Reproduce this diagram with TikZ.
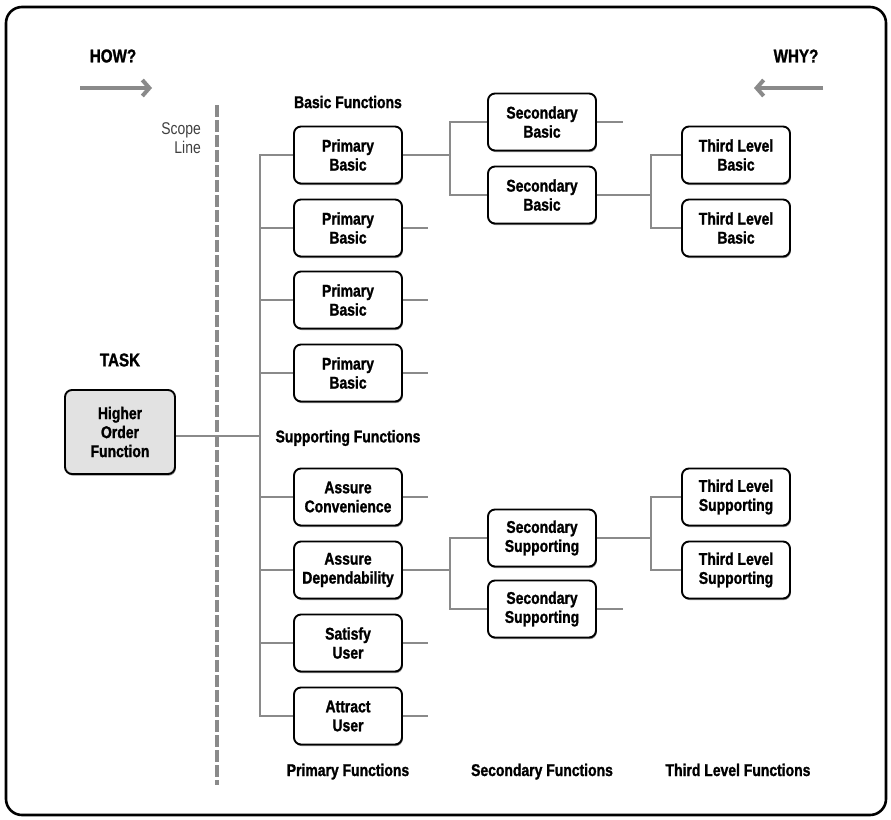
\documentclass[tikz,border=0pt]{standalone}
\usepackage{fontspec}
\setmainfont[FakeStretch=0.82, BoldFeatures={FakeBold=1.3}]{Liberation Sans}
\usetikzlibrary{arrows.meta,calc,shadows}
\definecolor{linegray}{HTML}{8A8A8A}
\definecolor{boxgray}{HTML}{E2E2E2}
\begin{document}
\begin{tikzpicture}[x=1pt,y=-1pt,
  fbox/.style={draw=black, line width=1.9pt, rounded corners=7pt, fill=white,
    minimum width=108pt, minimum height=57pt, align=center, inner sep=2pt,
    font=\bfseries\fontsize{17}{19}\selectfont,
    drop shadow={shadow xshift=0.8pt, shadow yshift=-1.6pt, fill=black!45, opacity=1}},
  conn/.style={draw=linegray, line width=2.8pt},
  heading/.style={font=\bfseries\fontsize{17}{19}\selectfont, inner sep=0pt},
  bigheading/.style={font=\bfseries\fontsize{18.5}{21}\selectfont, inner sep=0pt},
  direction/.style={draw=linegray, line width=4pt, -{Straight Barb[length=7pt,width=16pt,line width=4pt]}}
]
\useasboundingbox (0,0) rectangle (891,819);
% outer frame
\draw[line width=2.6pt, rounded corners=16pt] (6,7) rectangle (886,815);

% direction cues
\node[bigheading] (how) at (113,56) {HOW?};
\node[bigheading] (why) at (796,56) {WHY?};
\coordinate (howA) at (80,88);
\coordinate (howB) at (152,88);
\coordinate (whyA) at (823,88);
\coordinate (whyB) at (754,88);
\draw[direction] (howA) -- (howB);
\draw[direction] (whyA) -- (whyB);

% scope line
\coordinate (scopeTop) at (217,105);
\coordinate (scopeBot) at (217,785);
\draw[draw=linegray, line width=4.5pt, dash pattern=on 12pt off 3pt] (scopeTop) -- (scopeBot);
\node[font=\fontsize{17}{19}\selectfont, text=black!75, align=right, anchor=east, inner sep=0pt] (scope) at (201,138) {Scope\\Line};

% task
\node[bigheading] (task) at (120,360) {TASK};
\node[fbox, fill=boxgray, minimum width=110pt, minimum height=84pt] (hof) at (120,432) {Higher\\Order\\Function};

% group headings
\node[heading] (basicH) at (348,102) {Basic Functions};
\node[heading] (suppH) at (348,438) {Supporting Functions};
\node[heading, anchor=base] (primH) at (348,776) {Primary Functions};
\node[heading, anchor=base] (secH) at (542,776) {Secondary Functions};
\node[heading, anchor=base] (thirdH) at (738,776) {Third Level Functions};

% primary functions
\node[fbox] (p1) at (348,155) {Primary\\Basic};
\node[fbox] (p2) at (348,228) {Primary\\Basic};
\node[fbox] (p3) at (348,300) {Primary\\Basic};
\node[fbox] (p4) at (348,373) {Primary\\Basic};
\node[fbox] (p5) at (348,497) {Assure\\Convenience};
\node[fbox] (p6) at (348,570) {Assure\\Dependability};
\node[fbox] (p7) at (348,643) {Satisfy\\User};
\node[fbox] (p8) at (348,716) {Attract\\User};

% secondary functions
\node[fbox] (s1) at (542,122) {Secondary\\Basic};
\node[fbox] (s2) at (542,195) {Secondary\\Basic};
\node[fbox] (s3) at (542,538) {Secondary\\Supporting};
\node[fbox] (s4) at (542,609) {Secondary\\Supporting};

% third level functions
\node[fbox] (t1) at (736,155) {Third Level\\Basic};
\node[fbox] (t2) at (736,228) {Third Level\\Basic};
\node[fbox] (t3) at (736,497) {Third Level\\Supporting};
\node[fbox] (t4) at (736,570) {Third Level\\Supporting};

% trunk from the task to the primary functions
\coordinate (trunk) at (260,436);
\draw[conn] (hof.east |- trunk) -- (trunk);
\draw[conn] (p1.west) -- (p1.west -| trunk) -- (p8.west -| trunk) -- (p8.west);
\foreach \n in {p2,p3,p4,p5,p6,p7} {
  \draw[conn] (\n.west) -- (\n.west -| trunk);
}

% open ends of the primary functions
\foreach \n in {p2,p3,p4,p5,p7,p8} {
  \draw[conn] (\n.east) -- ++(25,0);
}

% primary to secondary branches
\coordinate (bs) at (450,155);
\draw[conn] (p1.east) -- (bs);
\draw[conn] (s1.west) -- (s1.west -| bs) -- (s2.west -| bs) -- (s2.west);
\coordinate (bp) at (450,570);
\draw[conn] (p6.east) -- (bp);
\draw[conn] (s3.west) -- (s3.west -| bp) -- (s4.west -| bp) -- (s4.west);

% open ends of the secondary functions
\draw[conn] (s1.east) -- ++(26,0);
\draw[conn] (s4.east) -- ++(26,0);

% secondary to third level branches
\coordinate (bt) at (651,195);
\draw[conn] (s2.east) -- (bt);
\draw[conn] (t1.west) -- (t1.west -| bt) -- (t2.west -| bt) -- (t2.west);
\coordinate (bu) at (651,538);
\draw[conn] (s3.east) -- (bu);
\draw[conn] (t3.west) -- (t3.west -| bu) -- (t4.west -| bu) -- (t4.west);
\end{tikzpicture}
\end{document}
